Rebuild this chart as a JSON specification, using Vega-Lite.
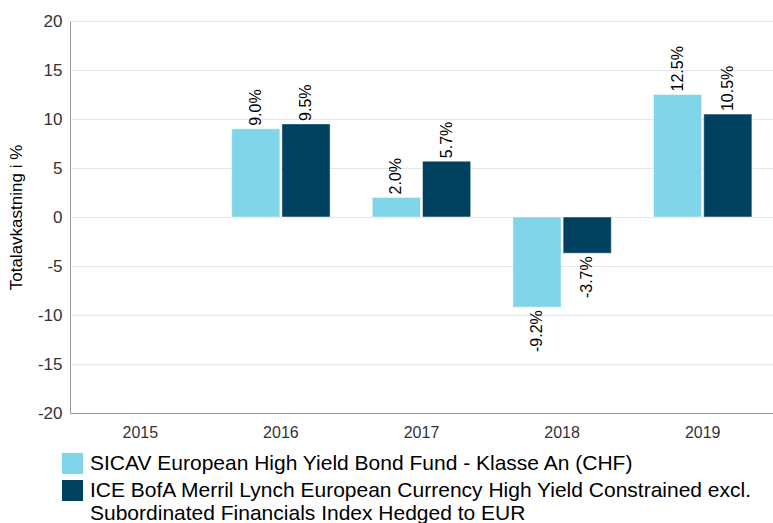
{
  "$schema": "https://vega.github.io/schema/vega-lite/v6.json",
  "width": 703,
  "height": 392,
  "autosize": {"type": "none"},
  "padding": {"left": 70, "top": 21, "right": 0, "bottom": 110},
  "background": "white",
  "config": {
    "view": {"stroke": null},
    "font": "Liberation Sans",
    "axis": {"labelFont": "Liberation Sans", "titleFont": "Liberation Sans"},
    "legend": {"labelFont": "Liberation Sans"}
  },
  "data": {
    "values": [
      {"year": "2016", "series": "SICAV European High Yield Bond Fund - Klasse An (CHF)", "v": 9.0, "label": "9.0%"},
      {"year": "2016", "series": "ICE BofA Merril Lynch European Currency High Yield Constrained excl. Subordinated Financials Index Hedged to EUR", "v": 9.5, "label": "9.5%"},
      {"year": "2017", "series": "SICAV European High Yield Bond Fund - Klasse An (CHF)", "v": 2.0, "label": "2.0%"},
      {"year": "2017", "series": "ICE BofA Merril Lynch European Currency High Yield Constrained excl. Subordinated Financials Index Hedged to EUR", "v": 5.7, "label": "5.7%"},
      {"year": "2018", "series": "SICAV European High Yield Bond Fund - Klasse An (CHF)", "v": -9.2, "label": "-9.2%"},
      {"year": "2018", "series": "ICE BofA Merril Lynch European Currency High Yield Constrained excl. Subordinated Financials Index Hedged to EUR", "v": -3.7, "label": "-3.7%"},
      {"year": "2019", "series": "SICAV European High Yield Bond Fund - Klasse An (CHF)", "v": 12.5, "label": "12.5%"},
      {"year": "2019", "series": "ICE BofA Merril Lynch European Currency High Yield Constrained excl. Subordinated Financials Index Hedged to EUR", "v": 10.5, "label": "10.5%"}
    ]
  },
  "encoding": {
    "x": {
      "field": "year", "type": "nominal",
      "scale": {"domain": ["2015", "2016", "2017", "2018", "2019"], "paddingInner": 0.3, "paddingOuter": 0.15},
      "axis": {"title": null, "labelAngle": 0, "labelFontSize": 16, "labelColor": "#333333", "labelPadding": 11, "ticks": false, "domainColor": "#999999", "grid": false}
    },
    "xOffset": {
      "field": "series", "type": "nominal",
      "scale": {"paddingInner": 0.04},
      "sort": ["SICAV European High Yield Bond Fund - Klasse An (CHF)", "ICE BofA Merril Lynch European Currency High Yield Constrained excl. Subordinated Financials Index Hedged to EUR"]
    },
    "y": {
      "field": "v", "type": "quantitative",
      "scale": {"domain": [-20, 20], "nice": false},
      "axis": {"title": "Totalavkastning i %", "titleFontSize": 17, "titleFontWeight": "normal", "titleColor": "#000000", "titlePadding": 12,
               "values": [-20, -15, -10, -5, 0, 5, 10, 15, 20], "labelExpr": "datum.value + ''", "labelFontSize": 17, "labelColor": "#333333", "labelPadding": 8,
               "ticks": false, "domainColor": "#999999", "gridColor": "#e6e6e6"}
    }
  },
  "layer": [
    {
      "mark": {"type": "bar", "stroke": "white", "strokeWidth": 0.5},
      "encoding": {
        "color": {
          "field": "series", "type": "nominal",
          "sort": ["SICAV European High Yield Bond Fund - Klasse An (CHF)", "ICE BofA Merril Lynch European Currency High Yield Constrained excl. Subordinated Financials Index Hedged to EUR"],
          "scale": {"range": ["#80d5e8", "#00415f"]},
          "legend": {
            "title": null, "orient": "none", "legendX": -8, "legendY": 432, "direction": "vertical",
            "symbolType": "square", "symbolSize": 440, "symbolStrokeWidth": 0,
            "labelFontSize": 21, "labelColor": "#000000", "labelLimit": 900, "labelOffset": 7, "rowPadding": 5,
            "labelExpr": "indexof(datum.label, 'ICE') == 0 ? ['ICE BofA Merril Lynch European Currency High Yield Constrained excl.', 'Subordinated Financials Index Hedged to EUR'] : datum.label"
          }
        },
        "y": {"field": "v", "type": "quantitative"},
        "y2": {"datum": 0}
      }
    },
    {
      "mark": {"type": "text", "angle": 270, "fontSize": 16, "color": "#000000", "baseline": "middle",
               "align": {"expr": "datum.v >= 0 ? 'left' : 'right'"},
               "dx": {"expr": "datum.v >= 0 ? 3 : -3"}},
      "encoding": {
        "text": {"field": "label"}
      }
    }
  ]
}
